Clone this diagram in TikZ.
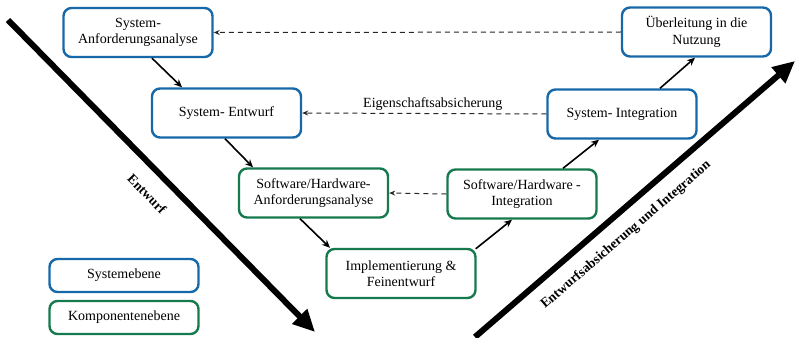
\documentclass[tikz,border=0pt]{standalone}
\usepackage{fontspec}
\setmainfont{Liberation Serif}
\usetikzlibrary{arrows.meta,calc}
\definecolor{sysblue}{RGB}{22,104,168}
\definecolor{compgreen}{RGB}{22,122,78}
\begin{document}
\begin{tikzpicture}[x=1pt,y=-1pt,
  font=\fontsize{14}{16.5}\selectfont,
  box/.style={draw,line width=2.4pt,rounded corners=8pt,minimum width=149pt,
    minimum height=49pt,align=center,inner sep=2pt},
  sysbox/.style={box,draw=sysblue},
  compbox/.style={box,draw=compgreen},
  legendbox/.style={box,minimum height=33pt},
  conn/.style={line width=1.6pt,-{Stealth[length=8pt,width=7pt]}},
  back/.style={line width=1pt,black!85,dash pattern=on 5pt off 4pt,-{Stealth[length=6pt,width=5pt]}},
  bigarrow/.style={line width=6pt,-{Triangle[length=22pt,width=20pt]}},
  phase/.style={font=\fontsize{13.5}{15}\selectfont\bfseries}]
\useasboundingbox (0,0) rectangle (797,337);

% process steps
\node[sysbox]  (s1) at (138,32.5)  {System-\\Anforderungsanalyse};
\node[sysbox]  (s2) at (226.5,113) {System- Entwurf};
\node[compbox] (s3) at (313.5,193) {Software/Hardware-\\Anforderungsanalyse};
\node[compbox] (s4) at (401,273.5) {Implementierung \&\\Feinentwurf};
\node[compbox] (s5) at (522,194)   {Software/Hardware -\\Integration};
\node[sysbox]  (s6) at (622,114)   {System- Integration};
\node[sysbox]  (s7) at (696.5,32)  {Überleitung in die\\Nutzung};

% legend
\node[legendbox,draw=sysblue]   (l1) at (124,275.5) {Systemebene};
\node[legendbox,draw=compgreen] (l2) at (124,317.5) {Komponentenebene};

% forward flow
\draw[conn] ([xshift=14pt]s1.south) -- ([xshift=-44.5pt]s2.north);
\draw[conn] ([xshift=-1.5pt]s2.south) -- ([xshift=-60.5pt]s3.north);
\draw[conn] ([xshift=-13.5pt]s3.south) -- ([xshift=-71pt]s4.north);
\draw[conn] ([xshift=-1pt,yshift=-1pt]s4.north east) -- ([xshift=-10pt]s5.south);
\draw[conn] ([xshift=41pt]s5.north) -- ([xshift=-23pt]s6.south);
\draw[conn] ([xshift=38pt]s6.north) -- ([xshift=-1.5pt]s7.south);

% feedback
\draw[back] (s7.west) -- (s1.east);
\draw[back] (s6.west) -- node[pos=0.465,above=-1pt,text=black] (lab) {Eigenschaftsabsicherung} (s2.east);
\draw[back] (s5.west) -- (s3.east);

% phase arrows
\coordinate (d0) at (8,20);
\coordinate (d1) at (315,332);
\coordinate (u0) at (475,337);
\coordinate (u1) at (795,61);
\draw[bigarrow] (d0) -- (d1);
\draw[bigarrow] (u0) -- (u1);
\node[phase,rotate=-45.5] (pd) at (147,194) {Entwurf};
\node[phase,rotate=40.7]  (pu) at (626,235) {Entwurfsabsicherung und Integration};
\end{tikzpicture}
\end{document}
